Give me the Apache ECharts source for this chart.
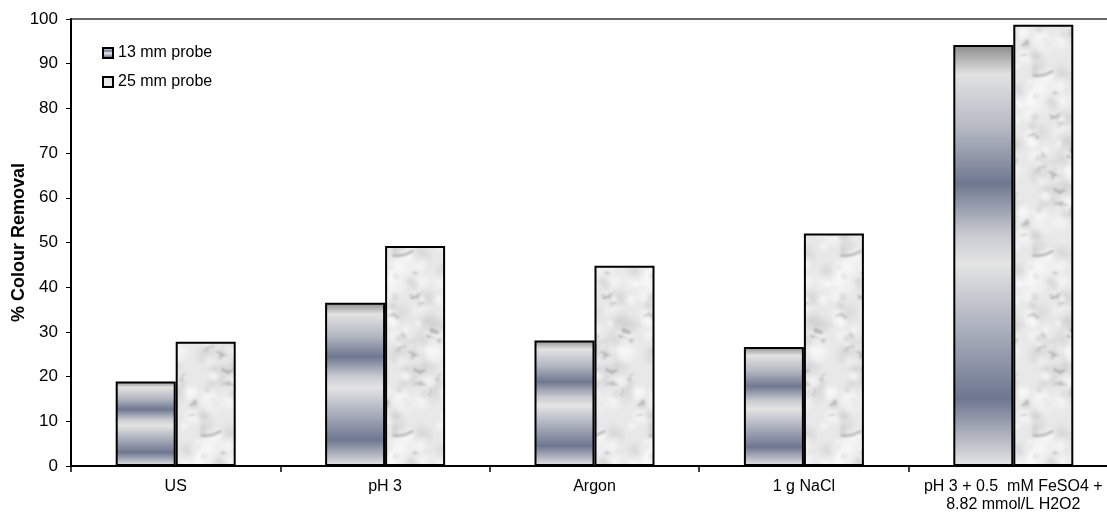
<!DOCTYPE html>
<html>
<head>
<meta charset="utf-8">
<script src="https://cdn.jsdelivr.net/npm/echarts@6/dist/echarts.min.js"></script>
<style>
  html, body { margin: 0; padding: 0; background: #fff; }
  #chart { width: 1107px; height: 512px; }
</style>
</head>
<body>
<div id="chart"></div>
<script>
// Treatments and % colour removal for each probe size
const categories = ['US', 'pH 3', 'Argon', '1 g NaCl', 'pH 3 + 0.5  mM FeSO4 +\n8.82 mmol/L H2O2'];
const probe13 = [18.9, 36.5, 28.1, 26.6, 94.2];
const probe25 = [27.8, 49.2, 44.8, 52.0, 98.7];
const seriesNames = ['13 mm probe', '25 mm probe'];
const yTicks = { min: 0, max: 100, interval: 10 };

// Brushed-metal fill for the 13 mm bars
const metal = new echarts.graphic.LinearGradient(0, 0, 0, 1, [
  { offset: 0.00, color: '#8a8a8a' },
  { offset: 0.07, color: '#e2e2e2' },
  { offset: 0.20, color: '#b4b8c2' },
  { offset: 0.33, color: '#6f7890' },
  { offset: 0.45, color: '#c8cad0' },
  { offset: 0.52, color: '#e4e4e4' },
  { offset: 0.68, color: '#a9aebb' },
  { offset: 0.84, color: '#6e7790' },
  { offset: 1.00, color: '#e6e6e6' }
]);

// Seamless marble texture for the 25 mm bars, painted once onto a small canvas.
// Every stroke is repeated at the tile's neighbouring offsets so edges wrap cleanly.
function marbleTexture() {
  const w = 64, h = 180;
  const c = document.createElement('canvas');
  c.width = w; c.height = h;
  const ctx = c.getContext('2d');
  ctx.fillStyle = '#e8e8e8';
  ctx.fillRect(0, 0, w, h);
  let s = 24680;
  const next = () => { s = (s * 1103515245 + 12345) & 0x7fffffff; return s / 0x7fffffff; };
  const offsets = [];
  for (const dx of [-w, 0, w]) for (const dy of [-h, 0, h]) offsets.push([dx, dy]);

  // cloudy light and grey patches
  for (let i = 0; i < 90; i++) {
    const x0 = next() * w, y0 = next() * h, r = 4 + next() * 10;
    const light = next() < 0.5;
    const v = light ? 250 : 180 + Math.floor(next() * 30);
    const a = light ? 0.7 : 0.4;
    for (const [dx, dy] of offsets) {
      const x = x0 + dx, y = y0 + dy;
      const g = ctx.createRadialGradient(x, y, 0, x, y, r);
      g.addColorStop(0, 'rgba(' + v + ',' + v + ',' + v + ',' + a + ')');
      g.addColorStop(1, 'rgba(' + v + ',' + v + ',' + v + ',0)');
      ctx.fillStyle = g;
      ctx.beginPath(); ctx.arc(x, y, r, 0, Math.PI * 2); ctx.fill();
    }
  }
  // soft smudged veins
  ctx.filter = 'blur(1.2px)';
  ctx.lineCap = 'round';
  for (let i = 0; i < 18; i++) {
    const pts = [[next() * w, next() * h]];
    for (let k = 0; k < 3; k++) {
      const p = pts[pts.length - 1];
      pts.push([p[0] + (next() - 0.5) * 16, p[1] + (next() - 0.5) * 8]);
    }
    ctx.strokeStyle = 'rgba(130,130,135,' + (0.3 + next() * 0.3) + ')';
    ctx.lineWidth = 1 + next() * 1.5;
    for (const [dx, dy] of offsets) {
      ctx.beginPath();
      pts.forEach((p, k) => k ? ctx.lineTo(p[0] + dx, p[1] + dy) : ctx.moveTo(p[0] + dx, p[1] + dy));
      ctx.stroke();
    }
  }
  ctx.filter = 'none';
  return c;
}
const marble = { image: marbleTexture(), repeat: 'repeat' };

const font = 'Liberation Sans, Arial, sans-serif';
const chart = echarts.init(document.getElementById('chart'), null, { renderer: 'canvas' });

chart.setOption({
  animation: false,
  backgroundColor: '#ffffff',
  textStyle: { fontFamily: font },
  grid: {
    left: 71, top: 19, bottom: 46, width: 1047,
    outerBoundsMode: 'none',
    show: true, borderColor: '#666666', borderWidth: 2, backgroundColor: 'transparent'
  },
  legend: {
    orient: 'vertical',
    left: 97, top: 40,
    itemWidth: 10, itemHeight: 10, itemGap: 13,
    textStyle: { fontFamily: font, fontSize: 16, color: '#000' },
    data: seriesNames.map(n => ({ name: n, icon: 'rect' }))
  },
  xAxis: {
    type: 'category',
    data: categories,
    boundaryGap: true,
    axisLine: { lineStyle: { color: '#000', width: 2 } },
    axisTick: { show: true, length: 6, lineStyle: { color: '#000', width: 1.5 } },
    axisLabel: { color: '#000', fontSize: 16, fontFamily: font, margin: 12, lineHeight: 18, interval: 0 },
    splitLine: { show: false }
  },
  yAxis: {
    type: 'value',
    min: yTicks.min, max: yTicks.max, interval: yTicks.interval,
    name: '% Colour Removal',
    nameLocation: 'middle',
    nameGap: 43,
    nameMoveOverlap: false,
    nameTextStyle: { fontFamily: font, fontSize: 18, fontWeight: 'bold', color: '#000' },
    axisLine: { show: true, lineStyle: { color: '#000', width: 2 } },
    axisTick: { show: true, length: 5, lineStyle: { color: '#000', width: 1 } },
    axisLabel: { color: '#000', fontSize: 17, fontFamily: font, margin: 13 },
    splitLine: { show: false }
  },
  series: [
    {
      name: seriesNames[0], type: 'bar', data: probe13,
      barWidth: 60, barGap: '0%',
      itemStyle: { color: metal, borderColor: '#000', borderWidth: 2 }
    },
    {
      name: seriesNames[1], type: 'bar', data: probe25,
      barWidth: 60, barGap: '0%',
      itemStyle: { color: marble, borderColor: '#000', borderWidth: 2 }
    }
  ]
});
</script>
</body>
</html>
